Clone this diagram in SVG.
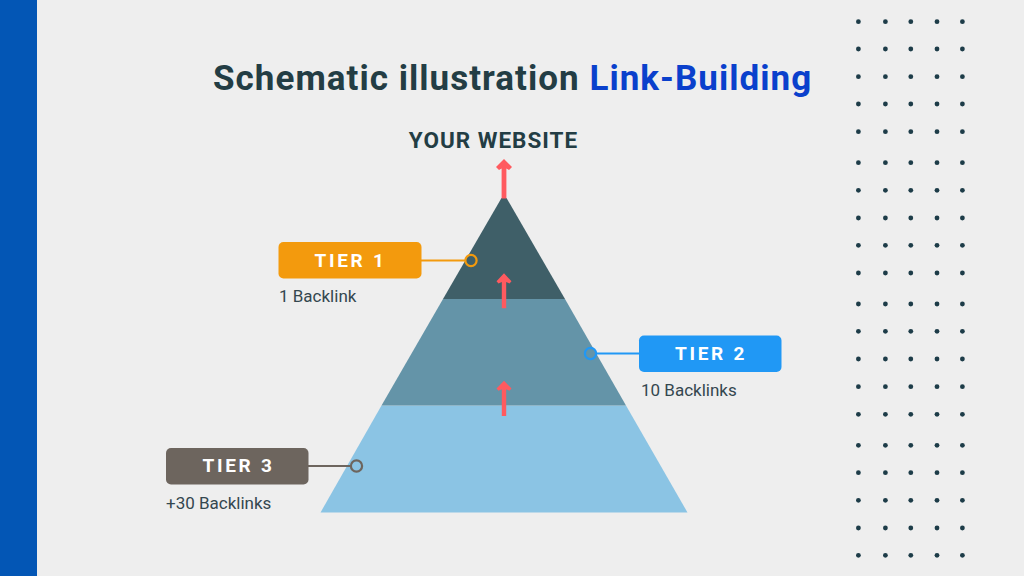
<svg xmlns="http://www.w3.org/2000/svg" width="1024" height="576" viewBox="0 0 1024 576">
<defs>
<circle id="d" r="2.4" fill="#1d3c48"/>
<g id="row"><use href="#d" x="858.4"/><use href="#d" x="885.4"/><use href="#d" x="910.8"/><use href="#d" x="937"/><use href="#d" x="962.4"/></g>
</defs>
<style>
text{font-family:Roboto,"Liberation Sans",sans-serif}
.tag{font-size:19px;font-weight:700;fill:#fff;letter-spacing:2.7px;text-anchor:middle}
.sub{font-size:17px;fill:#34474f}
.arrow{fill:#ff5a5f}
</style>
<rect width="1024" height="576" fill="#eeeeee"/>
<rect width="37" height="576" fill="#0356b5"/>
<g id="dots">
<use href="#row" y="21.700"/><use href="#row" y="49"/><use href="#row" y="76.700"/><use href="#row" y="104"/><use href="#row" y="131.700"/>
<use href="#row" y="162.700"/><use href="#row" y="190.300"/><use href="#row" y="218"/><use href="#row" y="245.300"/><use href="#row" y="273"/>
<use href="#row" y="304"/><use href="#row" y="331.300"/><use href="#row" y="359"/><use href="#row" y="386.700"/><use href="#row" y="414.300"/>
<use href="#row" y="445.300"/><use href="#row" y="472.700"/><use href="#row" y="500.300"/><use href="#row" y="528"/><use href="#row" y="555.300"/>
</g>
<text id="title" x="213" y="90" font-size="35" font-weight="700" fill="#233d44" letter-spacing="1.030">Schematic illustration <tspan fill="#0a40cc">Link-Building</tspan></text>
<text id="website" x="493.500" y="148" font-size="22.500" font-weight="700" fill="#233d44" text-anchor="middle" letter-spacing="1">YOUR WEBSITE</text>
<g id="pyramid">
<polygon points="320.500,512.500 381.500,405.500 626,405.500 687.500,512.500" fill="#8bc4e4"/>
<polygon points="381.500,405.500 443,299 565,299 626,405.500" fill="#6494a8"/>
<polygon points="443,299 501.500,198 506.500,198 565,299" fill="#3f5f68"/>
</g>
<g id="connectors">
<g fill="none" stroke-width="2">
<path d="M421 260.500H465" stroke="#f39a0d"/>
<path d="M597 353.500H640" stroke="#2098f5"/>
<path d="M308 466H351" stroke="#6d655e"/>
</g>
<g fill="none" stroke-width="2.200">
<circle cx="471" cy="260.500" r="5.600" stroke="#f39a0d"/>
<circle cx="590.500" cy="353.500" r="5.600" stroke="#2098f5"/>
<circle cx="356.500" cy="466" r="5.600" stroke="#6d655e"/>
</g>
<path class="arrow" d="M504 159L512 167L509 170L506.400 168.500V198.500H501.600V168.500L499 170L496 167Z"/>
<path class="arrow" d="M504 273.300L511.500 281.300L509.500 283.500L506.200 282V308.300H501.800V282L498.500 283.500L496.500 281.300Z"/>
<path class="arrow" d="M504 380.700L511.500 388.500L509.500 390.700L506.200 389.300V416H501.800V389.300L498.500 390.700L496.500 388.500Z"/>
</g>
<g id="tier1">
<rect x="278.500" y="242" width="143" height="36.500" rx="5" fill="#f39a0d"/>
<text class="tag" x="350.500" y="267">TIER 1</text>
<text class="sub" x="279" y="301.500">1 Backlink</text>
</g>
<g id="tier2">
<rect x="639" y="335.500" width="142.500" height="36.500" rx="5" fill="#2098f5"/>
<text class="tag" x="711" y="360">TIER 2</text>
<text class="sub" x="641" y="395.500">10 Backlinks</text>
</g>
<g id="tier3">
<rect x="166" y="448" width="142.500" height="36.500" rx="5" fill="#6d655e"/>
<text class="tag" x="238.500" y="472">TIER 3</text>
<text class="sub" x="166" y="509">+30 Backlinks</text>
</g>
</svg>
